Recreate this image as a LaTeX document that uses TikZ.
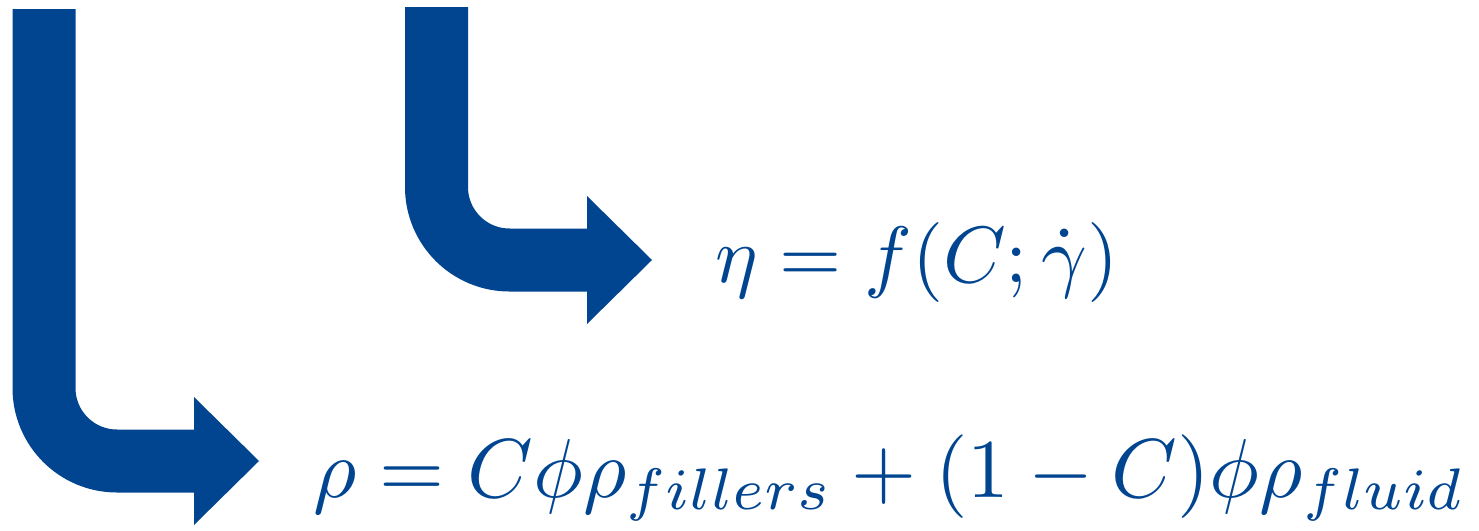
\documentclass[tikz,border=0pt]{standalone}
\usepackage{amsmath,amssymb}
\usepackage{graphicx}
\definecolor{arrowblue}{RGB}{1,69,145}
\tikzset{
  bentshaft/.style={draw=arrowblue,line width=63,rounded corners=73},
  eqtext/.style={text=arrowblue,inner sep=0pt,anchor=base west}
}

\begin{document}
\begin{tikzpicture}[x=1pt,y=-1pt]
\useasboundingbox (0,0) rectangle (1479,530);
\def\hd{64}
% left arrow
\coordinate (topA) at (44,9);
\coordinate (endA) at (195,461);
\draw[bentshaft] (topA) |- (endA);
\fill[arrowblue] (endA) +(-1,-\hd) -- +(\hd,0) -- +(-1,\hd) -- cycle;
% right arrow
\coordinate (topB) at (436.5,7);
\coordinate (endB) at (588,260);
\draw[bentshaft] (topB) |- (endB);
\fill[arrowblue] (endB) +(-1,-\hd) -- +(\hd,0) -- +(-1,\hd) -- cycle;
% equations
\node[eqtext] (visc) at (715,282) {\resizebox{403pt}{!}{$\eta = f(C;\dot{\gamma})$}};
\node[eqtext] (dens) at (313,497) {\resizebox{1152pt}{!}{$\rho = C\phi\rho_{fillers} + (1-C)\phi\rho_{fluid}$}};
\end{tikzpicture}
\end{document}
